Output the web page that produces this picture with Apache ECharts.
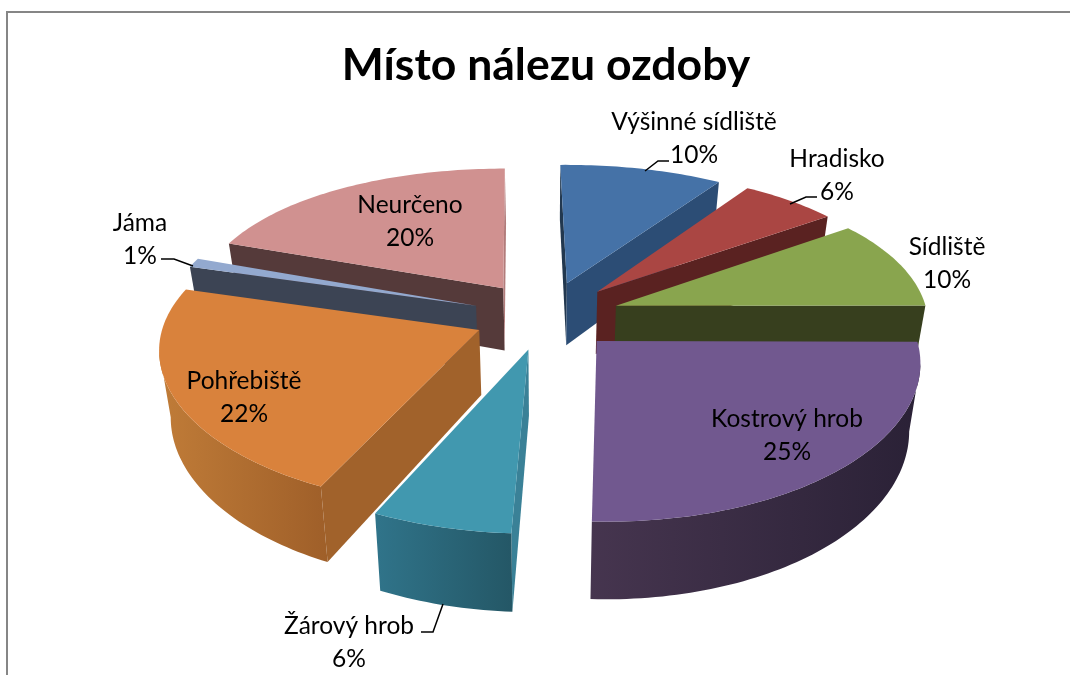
<!DOCTYPE html>
<html>
<head>
<meta charset="utf-8">
<title>Místo nálezu ozdoby</title>
<script src="https://cdn.jsdelivr.net/npm/echarts@6/dist/echarts.min.js"></script>
<style>
  html, body { margin: 0; padding: 0; background: #fff; }
  #chart { width: 1070px; height: 675px; }
</style>
</head>
<body>
<div id="chart"></div>
<script>
const categories = ['Výšinné sídliště', 'Hradisko', 'Sídliště', 'Kostrový hrob', 'Žárový hrob', 'Pohřebiště', 'Jáma', 'Neurčeno'];
const values = [10, 6, 10, 25, 6, 22, 1, 20];
const titleText = 'Místo nálezu ozdoby';

const topColors = ['#4572a7', '#aa4643', '#89a54e', '#71588f', '#4198af', '#d9823c', '#93a9cf', '#d09190'];
// side facing the start edge / the end edge of each slice
const startSide = ['#22384f', '#5a2221', '#373f1e', '#2d233a', '#3a8197', '#a1622b', '#3c4454', '#553a3a'];
const endSide = ['#2c4d75', '#5a2221', '#373f1e', '#2d233a', '#2f7285', '#a1622b', '#3c4454', '#b27c7b'];
// outer wall shade, right end / left end
const wallRight = ['#2c4d75', '#5a2221', '#373f1e', '#2a2136', '#245766', '#9f5f29', '#3c4454', '#553a3a'];
const wallLeft = ['#2c4d75', '#5a2221', '#373f1e', '#46354f', '#30748a', '#c07c38', '#3c4454', '#553a3a'];

// label anchor (centre of first line) and leader line for each slice
const labelPos = [[694, 122], [837, 159], [947, 247], [787, 419], [349, 626], [244, 381], [140, 223], [410, 205]];
const leaders = [
  [[645, 171], [658, 161], [669, 161]],
  [[790, 204], [806, 197], [817, 197]],
  null, null,
  [[443, 604], [433, 632], [421, 632]],
  null,
  [[161, 259], [174, 259], [193, 266]],
  null
];

// tilted pie with perspective
const cx = 546, cy = 315;
const scaleX = 310, scaleY = 145, persp = 0.15, explode = 0.236;
const depth = 64, bottomShrink = 0.97, startAngle = -0.015;
const bendX = 3, bendY = 5;
const drawOrder = [0, 7, 1, 6, 2, 5, 3, 4];
const total = values.reduce((a, b) => a + b, 0);

function project(X, Y, low) {
  const w = 1 + persp * Y;
  const front = Math.max(0, -Y);
  let x = cx + X * scaleX / w + bendX * front * front;
  let y = cy - Y * scaleY / w - bendY * X * X;
  if (low) {
    x = cx + (x - cx) * bottomShrink;
    y += depth / w;
  }
  return [x, y];
}

function polygon(points, color) {
  return {
    type: 'polygon',
    shape: { points: points },
    style: { fill: color }
  };
}

function sliceAngles(i) {
  let before = 0;
  for (let k = 0; k < i; k++) before += values[k];
  const a0 = startAngle + before / total * Math.PI * 2;
  const a1 = a0 + values[i] / total * Math.PI * 2;
  return [a0, a1];
}

function renderSlice(params, api) {
  const i = api.value(0);
  const [a0, a1] = sliceAngles(i);
  const mid = (a0 + a1) / 2;
  const ox = explode * Math.sin(mid), oy = explode * Math.cos(mid);
  const rim = a => [ox + Math.sin(a), oy + Math.cos(a)];
  const pt = (w, low) => project(w[0], w[1], low);
  const apex = [ox, oy];
  const steps = Math.max(4, Math.ceil((a1 - a0) / 0.02));
  const children = [];

  const isVisibleSide = (edge, other) => {
    const a = pt(apex), p = pt(rim(edge)), m = pt(rim(other));
    const dx = p[0] - a[0], dy = p[1] - a[1];
    const down = dx * depth;
    const side = dx * (m[1] - a[1]) - dy * (m[0] - a[0]);
    return down * side < 0;
  };
  if (isVisibleSide(a0, mid)) {
    children.push(polygon([pt(apex), pt(rim(a0)), pt(rim(a0), true), pt(apex, true)], startSide[i]));
  }
  if (isVisibleSide(a1, mid)) {
    children.push(polygon([pt(apex), pt(rim(a1)), pt(rim(a1), true), pt(apex, true)], endSide[i]));
  }

  const topPts = [pt(apex)];
  const wallTop = [], wallBottom = [];
  for (let s = 0; s <= steps; s++) {
    const b0 = a0 + (a1 - a0) * s / steps;
    const b1 = a0 + (a1 - a0) * (s + 1) / steps;
    const p0 = pt(rim(b0));
    topPts.push(p0);
    // wall shows only where the rim runs right to left on screen
    if (s < steps && pt(rim(b1))[0] < p0[0]) {
      wallTop.push(p0);
      wallBottom.unshift(pt(rim(b0), true));
    } else if (wallTop.length && !wallTop.closed) {
      wallTop.push(p0);
      wallBottom.unshift(pt(rim(b0), true));
      wallTop.closed = true;
    }
  }
  if (wallTop.length) {
    children.push(polygon(wallTop.concat(wallBottom), {
      type: 'linear', x: 0, y: 0, x2: 1, y2: 0,
      colorStops: [{ offset: 0, color: wallLeft[i] }, { offset: 1, color: wallRight[i] }]
    }));
  }
  children.push(polygon(topPts, topColors[i]));
  return { type: 'group', children: children };
}

function renderLabel(params, api) {
  const i = api.value(0);
  const pos = labelPos[i];
  const children = [];
  [categories[i], api.value(1) + '%'].forEach((line, n) => {
    children.push({
      type: 'text',
      style: {
        x: pos[0], y: pos[1] + n * 33,
        text: line,
        align: 'center', verticalAlign: 'middle',
        fill: '#000',
        font: '24.5px Lato'
      }
    });
  });
  if (leaders[i]) {
    children.push({
      type: 'polyline',
      shape: { points: leaders[i] },
      style: { fill: 'none', stroke: '#000', lineWidth: 1.5 }
    });
  }
  return { type: 'group', children: children };
}

const chart = echarts.init(document.getElementById('chart'));
chart.setOption({
  animation: false,
  backgroundColor: '#fff',
  title: {
    text: titleText,
    left: 541,
    top: 38,
    textAlign: 'center',
    textStyle: { fontFamily: 'Lato', fontWeight: 'bold', fontSize: 44.5, color: '#000' }
  },
  graphic: [{
    type: 'rect',
    silent: true,
    shape: { x: 7, y: 12, width: 1200, height: 800 },
    style: { fill: 'none', stroke: '#868686', lineWidth: 2 }
  }],
  series: [
    {
      name: 'slices',
      type: 'custom',
      coordinateSystem: 'none',
      renderItem: renderSlice,
      silent: true,
      data: drawOrder.map(i => [i, values[i]])
    },
    {
      name: 'labels',
      type: 'custom',
      coordinateSystem: 'none',
      renderItem: renderLabel,
      silent: true,
      z: 5,
      data: values.map((v, i) => [i, v])
    }
  ]
});
</script>
</body>
</html>
